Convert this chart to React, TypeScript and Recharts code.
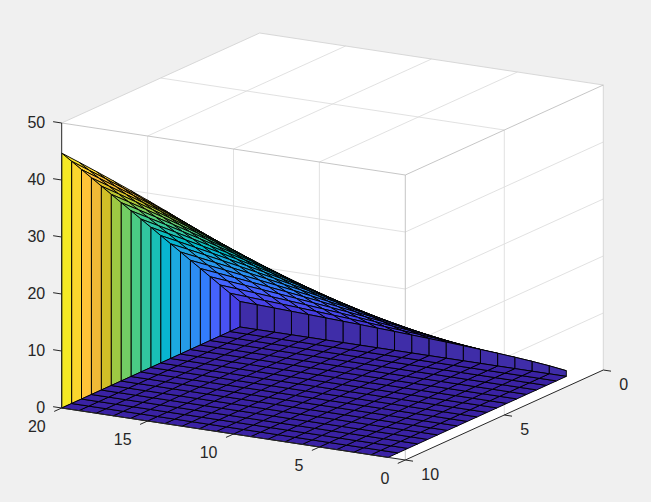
import React from 'react';
import { ScatterChart, Scatter, XAxis, YAxis } from 'recharts';

const WIDTH = 651;
const HEIGHT = 502;

// grid of the surface
const xValues = [1, 1.5, 2, 2.5, 3, 3.5, 4, 4.5, 5, 5.5, 6, 6.5, 7, 7.5, 8, 8.5, 9, 9.5, 10];
const yValues = [1, 2, 3, 4, 5, 6, 7, 8, 9, 10, 11, 12, 13, 14, 15, 16, 17, 18, 19, 20];

// heights, one row per x value, columns follow yValues
const heights = [
  [1.00, 1.41, 1.73, 2.00, 2.24, 2.45, 2.65, 2.83, 3.00, 3.16, 3.32, 3.46, 3.61, 3.74, 3.87, 4.00, 4.12, 4.24, 4.36, 4.47],
  [1.50, 2.12, 2.60, 3.00, 3.35, 3.67, 3.97, 4.24, 4.50, 4.74, 4.97, 5.20, 5.41, 5.61, 5.81, 6.00, 6.18, 6.36, 6.54, 6.71],
  [2.00, 2.83, 3.46, 4.00, 4.47, 4.90, 5.29, 5.66, 6.00, 6.32, 6.63, 6.93, 7.21, 7.48, 7.75, 8.00, 8.25, 8.49, 8.72, 8.94],
  [2.50, 3.54, 4.33, 5.00, 5.59, 6.12, 6.61, 7.07, 7.50, 7.91, 8.29, 8.66, 9.01, 9.35, 9.68, 10.00, 10.31, 10.61, 10.90, 11.18],
  [3.00, 4.24, 5.20, 6.00, 6.71, 7.35, 7.94, 8.49, 9.00, 9.49, 9.95, 10.39, 10.82, 11.22, 11.62, 12.00, 12.37, 12.73, 13.08, 13.42],
  [3.50, 4.95, 6.06, 7.00, 7.83, 8.57, 9.26, 9.90, 10.50, 11.07, 11.61, 12.12, 12.62, 13.10, 13.56, 14.00, 14.43, 14.85, 15.26, 15.65],
  [4.00, 5.66, 6.93, 8.00, 8.94, 9.80, 10.58, 11.31, 12.00, 12.65, 13.27, 13.86, 14.42, 14.97, 15.49, 16.00, 16.49, 16.97, 17.44, 17.89],
  [4.50, 6.36, 7.79, 9.00, 10.06, 11.02, 11.91, 12.73, 13.50, 14.23, 14.92, 15.59, 16.22, 16.84, 17.43, 18.00, 18.55, 19.09, 19.62, 20.12],
  [5.00, 7.07, 8.66, 10.00, 11.18, 12.25, 13.23, 14.14, 15.00, 15.81, 16.58, 17.32, 18.03, 18.71, 19.36, 20.00, 20.62, 21.21, 21.79, 22.36],
  [5.50, 7.78, 9.53, 11.00, 12.30, 13.47, 14.55, 15.56, 16.50, 17.39, 18.24, 19.05, 19.83, 20.58, 21.30, 22.00, 22.68, 23.33, 23.97, 24.60],
  [6.00, 8.49, 10.39, 12.00, 13.42, 14.70, 15.87, 16.97, 18.00, 18.97, 19.90, 20.78, 21.63, 22.45, 23.24, 24.00, 24.74, 25.46, 26.15, 26.83],
  [6.50, 9.19, 11.26, 13.00, 14.53, 15.92, 17.20, 18.38, 19.50, 20.55, 21.56, 22.52, 23.44, 24.32, 25.17, 26.00, 26.80, 27.58, 28.33, 29.07],
  [7.00, 9.90, 12.12, 14.00, 15.65, 17.15, 18.52, 19.80, 21.00, 22.14, 23.22, 24.25, 25.24, 26.19, 27.11, 28.00, 28.86, 29.70, 30.51, 31.30],
  [7.50, 10.61, 12.99, 15.00, 16.77, 18.37, 19.84, 21.21, 22.50, 23.72, 24.87, 25.98, 27.04, 28.06, 29.05, 30.00, 30.92, 31.82, 32.69, 33.54],
  [8.00, 11.31, 13.86, 16.00, 17.89, 19.60, 21.17, 22.63, 24.00, 25.30, 26.53, 27.71, 28.84, 29.93, 30.98, 32.00, 32.98, 33.94, 34.87, 35.78],
  [8.50, 12.02, 14.72, 17.00, 19.01, 20.82, 22.49, 24.04, 25.50, 26.88, 28.19, 29.44, 30.65, 31.80, 32.92, 34.00, 35.05, 36.06, 37.05, 38.01],
  [9.00, 12.73, 15.59, 18.00, 20.12, 22.05, 23.81, 25.46, 27.00, 28.46, 29.85, 31.18, 32.45, 33.67, 34.86, 36.00, 37.11, 38.18, 39.23, 40.25],
  [9.50, 13.44, 16.45, 19.00, 21.24, 23.27, 25.13, 26.87, 28.50, 30.04, 31.51, 32.91, 34.25, 35.55, 36.79, 38.00, 39.17, 40.31, 41.41, 42.49],
  [10.00, 14.14, 17.32, 20.00, 22.36, 24.49, 26.46, 28.28, 30.00, 31.62, 33.17, 34.64, 36.06, 37.42, 38.73, 40.00, 41.23, 42.43, 43.59, 44.72],
];

const xTicks = [0, 5, 10];
const yTicks = [0, 5, 10, 15, 20];
const zTicks = [0, 10, 20, 30, 40, 50];
const zMax = 44.72;

// parula
const colormap = [
  [0.2422, 0.1504, 0.6603], [0.2504, 0.165, 0.7076], [0.2578, 0.1818, 0.7511], [0.2647, 0.1978, 0.7952],
  [0.2706, 0.2147, 0.8364], [0.2751, 0.2342, 0.871], [0.2783, 0.2559, 0.8991], [0.2803, 0.2782, 0.9221],
  [0.2813, 0.3006, 0.9414], [0.281, 0.3228, 0.9579], [0.2795, 0.3447, 0.9717], [0.276, 0.3667, 0.9829],
  [0.2699, 0.3892, 0.9906], [0.2602, 0.4123, 0.9952], [0.244, 0.4358, 0.9988], [0.2206, 0.4603, 0.9973],
  [0.1963, 0.4847, 0.9892], [0.1834, 0.5074, 0.9798], [0.1786, 0.5289, 0.9682], [0.1764, 0.5499, 0.952],
  [0.1687, 0.5703, 0.9359], [0.154, 0.5902, 0.9218], [0.146, 0.6091, 0.9079], [0.138, 0.6276, 0.8973],
  [0.1248, 0.6459, 0.8883], [0.1113, 0.6635, 0.8763], [0.0952, 0.6798, 0.8598], [0.0689, 0.6948, 0.8394],
  [0.0297, 0.7082, 0.8163], [0.0036, 0.7203, 0.7917], [0.0067, 0.7312, 0.766], [0.0433, 0.7411, 0.7394],
  [0.0964, 0.75, 0.712], [0.1408, 0.7584, 0.6842], [0.1717, 0.767, 0.6554], [0.1938, 0.7758, 0.6251],
  [0.2161, 0.7843, 0.5923], [0.247, 0.7918, 0.5567], [0.2906, 0.7973, 0.5188], [0.3406, 0.8008, 0.4789],
  [0.3909, 0.8029, 0.4354], [0.4456, 0.8024, 0.3909], [0.5044, 0.7993, 0.348], [0.5616, 0.7942, 0.3045],
  [0.6174, 0.7876, 0.2612], [0.672, 0.7793, 0.2227], [0.7242, 0.7698, 0.191], [0.7738, 0.7598, 0.1646],
  [0.8203, 0.7498, 0.1535], [0.8634, 0.7406, 0.1596], [0.9035, 0.733, 0.1774], [0.9393, 0.7288, 0.21],
  [0.9728, 0.7298, 0.2394], [0.9956, 0.7434, 0.2371], [0.997, 0.7659, 0.2199], [0.9952, 0.7893, 0.2028],
  [0.9892, 0.8136, 0.1885], [0.9786, 0.8386, 0.1766], [0.9676, 0.8639, 0.1643], [0.961, 0.889, 0.1537],
  [0.9597, 0.9135, 0.1423], [0.9628, 0.9373, 0.1265], [0.9691, 0.9606, 0.1064], [0.9769, 0.9839, 0.0805],
];

const colorOf = (z: number) => {
  const idx = Math.min(colormap.length - 1, Math.floor((z / zMax) * colormap.length));
  const [r, g, b] = colormap[idx];
  return `rgb(${Math.round(r * 255)},${Math.round(g * 255)},${Math.round(b * 255)})`;
};

const BACK_WALL = '#3f2da8';
const FLOOR = '#3a22a4';

// orthographic view of the box, the axes below map 1 unit to 1 pixel
const project = (x: number, y: number, z: number) => ({
  sx: 405.3 + (10 - x) * 19.8 - y * 17.18,
  sy: 460 - (10 - x) * 9 - y * 2.6 - z * 5.7,
});

const quad = (corners: number[][], fill: string) => {
  const pts = corners.map(([x, y, z]) => project(x, y, z));
  return { ...pts[0], pts, fill };
};

const seg = (a: number[], b: number[], stroke: string) => {
  const p = project(a[0], a[1], a[2]);
  const q = project(b[0], b[1], b[2]);
  return { ...p, dx: q.sx - p.sx, dy: q.sy - p.sy, stroke };
};

const lastX = xValues.length - 1;
const lastY = yValues.length - 1;

// the camera sits below the box, so the far cells are high x / low y and the floor is nearest
const surfaceCells: any[] = [];
for (let i = lastX - 1; i >= 0; i--) {
  for (let j = 0; j < lastY; j++) {
    surfaceCells.push(
      quad(
        [
          [xValues[i], yValues[j], heights[i][j]],
          [xValues[i + 1], yValues[j], heights[i + 1][j]],
          [xValues[i + 1], yValues[j + 1], heights[i + 1][j + 1]],
          [xValues[i], yValues[j + 1], heights[i][j + 1]],
        ],
        colorOf(heights[i][j])
      )
    );
  }
}

const wallCells: any[] = [];
for (let j = 0; j < lastY; j++) {
  wallCells.push(
    quad(
      [
        [xValues[0], yValues[j], 0],
        [xValues[0], yValues[j + 1], 0],
        [xValues[0], yValues[j + 1], heights[0][j + 1]],
        [xValues[0], yValues[j], heights[0][j]],
      ],
      BACK_WALL
    )
  );
}
for (let i = 0; i < lastX; i++) {
  wallCells.push(
    quad(
      [
        [xValues[i], yValues[lastY], 0],
        [xValues[i + 1], yValues[lastY], 0],
        [xValues[i + 1], yValues[lastY], heights[i + 1][lastY]],
        [xValues[i], yValues[lastY], heights[i][lastY]],
      ],
      colorOf(heights[i][lastY])
    )
  );
}

const floorCells: any[] = [];
for (let i = lastX - 1; i >= 0; i--) {
  for (let j = 0; j < lastY; j++) {
    floorCells.push(
      quad(
        [
          [xValues[i], yValues[j], 0],
          [xValues[i + 1], yValues[j], 0],
          [xValues[i + 1], yValues[j + 1], 0],
          [xValues[i], yValues[j + 1], 0],
        ],
        FLOOR
      )
    );
  }
}

const GRID = '#dedede';
const EDGE = '#c0c0c0';
const AXIS = '#262626';

const gridLines: any[] = [];
yTicks.slice(1, -1).forEach(y => {
  gridLines.push(seg([10, y, 0], [10, y, 50], GRID));
  gridLines.push(seg([10, y, 50], [0, y, 50], GRID));
});
xTicks.slice(1, -1).forEach(x => {
  gridLines.push(seg([x, 0, 0], [x, 0, 50], GRID));
  gridLines.push(seg([x, 0, 50], [x, 20, 50], GRID));
});
zTicks.slice(1, -1).forEach(z => {
  gridLines.push(seg([10, 20, z], [10, 0, z], GRID));
  gridLines.push(seg([10, 0, z], [0, 0, z], GRID));
});
gridLines.push(seg([0, 20, 50], [0, 0, 50], '#d4d4d4'));
gridLines.push(seg([0, 20, 50], [10, 20, 50], '#d4d4d4'));
gridLines.push(seg([0, 0, 0], [0, 0, 50], '#d4d4d4'));
gridLines.push(seg([10, 20, 50], [10, 0, 50], EDGE));
gridLines.push(seg([10, 0, 50], [0, 0, 50], EDGE));
gridLines.push(seg([10, 0, 0], [10, 0, 50], EDGE));

const axisLines: any[] = [
  seg([10, 20, 0], [10, 20, 50], AXIS),
  seg([10, 20, 0], [10, 0, 0], AXIS),
  seg([10, 0, 0], [0, 0, 0], AXIS),
];
// tick marks run along the neighbouring axis direction
zTicks.forEach(z => axisLines.push(seg([10, 20, z], [10, 20.5, z], AXIS)));
yTicks.forEach(y => axisLines.push(seg([10, y, 0], [10.38, y, 0], AXIS)));
xTicks.forEach(x => axisLines.push(seg([x, 0, 0], [x, -0.45, 0], AXIS)));

const tickLabels: any[] = [
  ...zTicks.map(z => ({ ...project(10, 20, z), text: String(z), anchor: 'end', ox: -16.5, oy: 5 })),
  ...yTicks.map(y => ({ ...project(10, y, 0), text: String(y), anchor: 'end', ox: -16, oy: 23.5 })),
  ...xTicks.map(x => ({ ...project(x, 0, 0), text: String(x), anchor: 'start', ox: 16, oy: 19.5 })),
];

const boxFace = [
  { ...project(10, 20, 50), pts: [[10, 20, 50], [0, 20, 50], [0, 0, 50], [0, 0, 0], [10, 0, 0], [10, 20, 0]].map(c => project(c[0], c[1], c[2])) },
];

const Quad = (props: any) => {
  const { cx, cy, payload } = props;
  const ox = cx - payload.sx;
  const oy = cy - payload.sy;
  const points = payload.pts.map((p: any) => `${p.sx + ox},${p.sy + oy}`).join(' ');
  return <polygon points={points} fill={payload.fill} stroke="#000" strokeWidth={0.95} strokeLinejoin="round" />;
};

const Face = (props: any) => {
  const { cx, cy, payload } = props;
  const ox = cx - payload.sx;
  const oy = cy - payload.sy;
  const points = payload.pts.map((p: any) => `${p.sx + ox},${p.sy + oy}`).join(' ');
  return <polygon points={points} fill="#fff" stroke="none" />;
};

const Segment = (props: any) => {
  const { cx, cy, payload } = props;
  return <line x1={cx} y1={cy} x2={cx + payload.dx} y2={cy + payload.dy} stroke={payload.stroke} strokeWidth={payload.stroke === AXIS ? 1 : 0.9} />;
};

const Label = (props: any) => {
  const { cx, cy, payload } = props;
  return (
    <text x={cx + payload.ox} y={cy + payload.oy} textAnchor={payload.anchor} fontFamily="'Liberation Sans', Arial, sans-serif" fontSize={16} fill={AXIS}>
      {payload.text}
    </text>
  );
};

export default function App() {
  return (
    <div style={{ position: 'absolute', left: 0, top: 0, width: WIDTH, height: HEIGHT, background: '#f0f0f0', overflow: 'hidden' }}>
      <ScatterChart width={WIDTH} height={HEIGHT} margin={{ top: 0, right: 0, bottom: 0, left: 0 }}>
        <XAxis type="number" dataKey="sx" domain={[0, WIDTH]} allowDataOverflow hide />
        <YAxis type="number" dataKey="sy" domain={[0, HEIGHT]} allowDataOverflow reversed hide />
        <Scatter data={boxFace} shape={Face} isAnimationActive={false} />
        <Scatter data={gridLines} shape={Segment} isAnimationActive={false} />
        <Scatter data={surfaceCells} shape={Quad} isAnimationActive={false} />
        <Scatter data={wallCells} shape={Quad} isAnimationActive={false} />
        <Scatter data={floorCells} shape={Quad} isAnimationActive={false} />
        <Scatter data={axisLines} shape={Segment} isAnimationActive={false} />
        <Scatter data={tickLabels} shape={Label} isAnimationActive={false} />
      </ScatterChart>
    </div>
  );
}
